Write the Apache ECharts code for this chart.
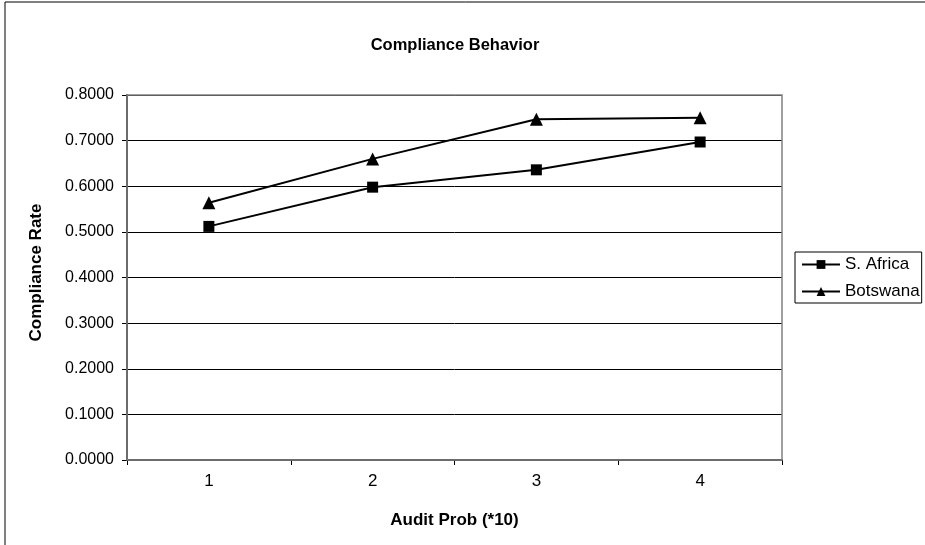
<!DOCTYPE html>
<html>
<head>
<meta charset="utf-8">
<script src="https://cdn.jsdelivr.net/npm/echarts@6/dist/echarts.min.js"></script>
<style>
html,body{margin:0;padding:0;background:#fff;}
#c{width:925px;height:545px;}
</style>
</head>
<body>
<div id="c"></div>
<script>
const categories = ['1', '2', '3', '4'];
const southAfrica = [0.512, 0.598, 0.636, 0.697];
const botswana = [0.564, 0.660, 0.747, 0.750];
const seriesNames = ['S. Africa', 'Botswana'];

const FONT = '"Liberation Sans", Arial, sans-serif';
const chart = echarts.init(document.getElementById('c'), null, {renderer: 'canvas'});
chart.setOption({
  backgroundColor: '#fff',
  animation: false,
  title: {
    text: 'Compliance Behavior',
    left: 450, top: 32, textAlign: 'center',
    textStyle: {fontFamily: FONT, fontSize: 16.5, fontWeight: 'bold', color: '#000'}
  },
  graphic: [
    {type: 'rect', shape: {x: 5, y: 2, width: 940, height: 570}, style: {fill: 'none', stroke: '#000', lineWidth: 1}, z: 0, silent: true},
    {type: 'rect', shape: {x: 127, y: 95, width: 655, height: 365}, style: {fill: 'none', stroke: '#808080', lineWidth: 1.5}, z: 1, silent: true}
  ],
  legend: {
    orient: 'vertical',
    left: 795, top: 252,
    data: seriesNames,
    borderColor: '#000', borderWidth: 1,
    padding: [4, 2, 3, 6],
    itemWidth: 38, itemHeight: 11, itemGap: 10,
    textStyle: {fontFamily: FONT, fontSize: 17, color: '#000'}
  },
  grid: {left: 127, right: 143, top: 95, bottom: 85, containLabel: false},
  xAxis: {
    type: 'category',
    data: categories,
    boundaryGap: true,
    name: 'Audit Prob (*10)',
    nameLocation: 'middle',
    nameGap: 52,
    nameTextStyle: {fontFamily: FONT, fontSize: 17, fontWeight: 'bold', color: '#000'},
    axisLine: {lineStyle: {color: '#303030', width: 2}},
    axisTick: {show: true, inside: false, length: 5, alignWithLabel: false, lineStyle: {color: '#000'}},
    axisLabel: {fontFamily: FONT, fontSize: 17, color: '#000', margin: 13},
    splitLine: {show: false}
  },
  yAxis: {
    type: 'value',
    min: 0, max: 0.8, interval: 0.1,
    name: 'Compliance Rate',
    nameLocation: 'middle',
    nameGap: 82,
    nameRotate: 90,
    nameTextStyle: {fontFamily: FONT, fontSize: 17, fontWeight: 'bold', color: '#000', padding: [0, 0, 0, 10]},
    axisLine: {show: true, lineStyle: {color: '#303030', width: 2}},
    axisTick: {show: true, inside: false, length: 5, lineStyle: {color: '#000'}},
    axisLabel: {fontFamily: FONT, fontSize: 16, color: '#000', margin: 13, formatter: v => v.toFixed(4)},
    splitLine: {show: true, lineStyle: {color: '#000', width: 1}}
  },
  series: [
    {
      name: seriesNames[0], type: 'line', data: southAfrica,
      symbol: 'rect', symbolSize: 11,
      lineStyle: {color: '#000', width: 2},
      itemStyle: {color: '#000'}, z: 3
    },
    {
      name: seriesNames[1], type: 'line', data: botswana,
      symbol: 'triangle', symbolSize: 13,
      lineStyle: {color: '#000', width: 2},
      itemStyle: {color: '#000'}, z: 3
    }
  ]
});
</script>
</body>
</html>
